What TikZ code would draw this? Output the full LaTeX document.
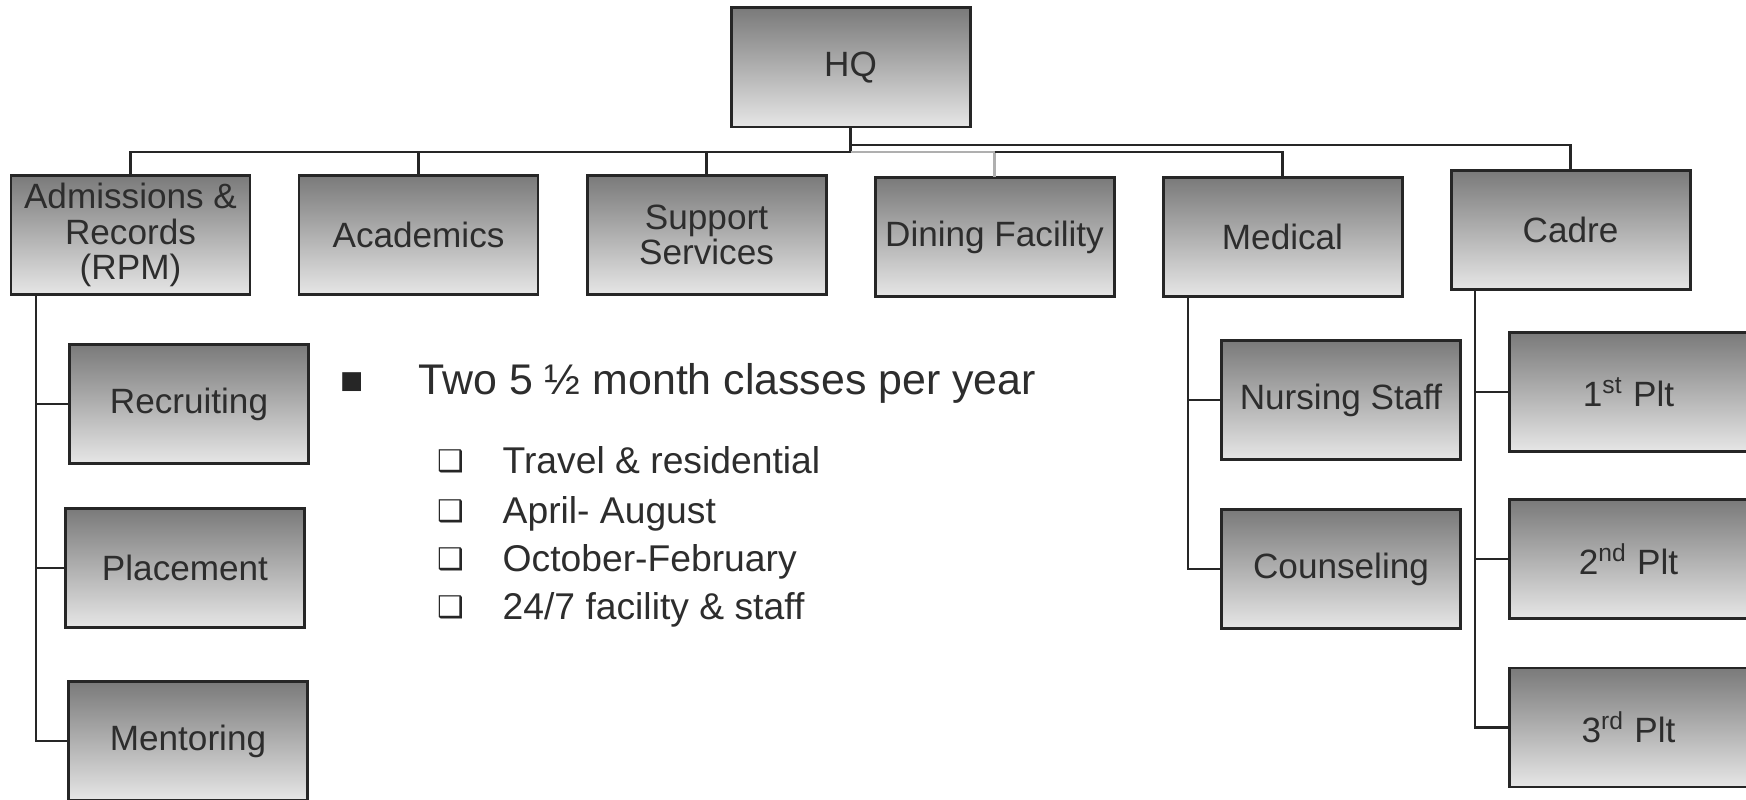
\documentclass[tikz,border=0pt]{standalone}
\usepackage{fontspec}
\setmainfont{Liberation Sans}
\newfontfamily\symfont{DejaVu Sans}
\usetikzlibrary{positioning}

\definecolor{inkgray}{RGB}{45,45,45}
\definecolor{edgegray}{RGB}{38,38,38}
\definecolor{boxtop}{RGB}{122,122,122}
\definecolor{boxbot}{RGB}{230,230,230}
\definecolor{palegray}{RGB}{175,175,175}

\begin{document}
\begin{tikzpicture}[node distance=0.49cm,
    every node/.style={text=inkgray},
    unit/.style={draw=edgegray, line width=0.85pt, outer sep=0pt, top color=boxtop, bottom color=boxbot,
      minimum width=2.39cm, minimum height=1.19cm, inner sep=1pt, align=center,
      font=\fontsize{10}{10}\selectfont},
    link/.style={edgegray, line width=0.6pt},
    palelink/.style={palegray, line width=0.8pt},
    item/.style={anchor=base west, inner sep=0pt, font=\fontsize{10.6}{12}\selectfont},
    tick/.style={anchor=base east, inner sep=0pt, text=edgegray, font=\symfont\fontsize{8.5}{9}\selectfont}]
  \useasboundingbox[fill=white] (0,0) rectangle (17.46,-8);

  % top row
  \node[unit] (hq) at (8.505,-0.675) {HQ};
  \node[unit] (adm) at (1.305,-2.35) {Admissions \&\\Records\\(RPM)};
  \node[unit, right=of adm] (acad) {Academics};
  \node[unit, right=of acad] (supp) {Support\\Services};
  \node[unit, right=of supp, yshift=-0.02cm] (dine) {Dining Facility};
  \node[unit, right=of dine] (med) {Medical};
  \node[unit, right=of med, yshift=0.07cm] (cadre) {Cadre};

  % sections
  \node[unit, below=0.5cm of adm, xshift=0.585cm] (recr) {Recruiting};
  \node[unit, below=0.45cm of recr, xshift=-0.04cm] (plac) {Placement};
  \node[unit, below=0.54cm of plac, xshift=0.03cm] (ment) {Mentoring};
  \node[unit, below=0.44cm of med, xshift=0.585cm] (nurs) {Nursing Staff};
  \node[unit, below=0.5cm of nurs] (couns) {Counseling};
  \node[unit, below=0.43cm of cadre, xshift=0.58cm] (plt1) {1\textsuperscript{st} Plt};
  \node[unit, below=0.48cm of plt1] (plt2) {2\textsuperscript{nd} Plt};
  \node[unit, below=0.495cm of plt2] (plt3) {3\textsuperscript{rd} Plt};

  % bus under HQ
  \coordinate (busR) at ([yshift=-0.18cm]hq.south);
  \coordinate (busL) at ([yshift=-0.25cm]hq.south);
  \draw[link] (hq.south) -- (busL);
  \draw[link] (busR) -| (cadre.north);
  \draw[link] (busL) -| (adm.north);
  \draw[link] (busL) -| (acad.north);
  \draw[link] (busL) -| (supp.north);
  \draw[palelink] (busL) -| (dine.north);
  \draw[link] (busL -| dine.north) -| (med.north);

  % side branches
  \draw[link] ([xshift=0.25cm]adm.south west) |- (recr.west);
  \draw[link] ([xshift=0.25cm]adm.south west) |- (plac.west);
  \draw[link] ([xshift=0.25cm]adm.south west) |- (ment.west);
  \draw[link] ([xshift=0.25cm]med.south west) |- (nurs.west);
  \draw[link] ([xshift=0.25cm]med.south west) |- (couns.west);
  \draw[link] ([xshift=0.24cm]cadre.south west) |- (plt1.west);
  \draw[link] ([xshift=0.24cm]cadre.south west) |- (plt2.west);
  \draw[link] ([xshift=0.24cm]cadre.south west) |- (plt3.west);

  % notes
  \node[anchor=base west, inner sep=0pt, font=\fontsize{12.2}{14}\selectfont] (cls) at (4.18,-3.95) {Two 5 ½ month classes per year};
  \node[anchor=base east, inner sep=0pt, text=edgegray, font=\symfont\fontsize{7}{8}\selectfont] (clsdot) at ([xshift=-0.54cm, yshift=0.06cm]cls.base west) {■};
  \node[item] (trv) at (5.02,-4.735) {Travel \& residential};
  \node[item] (apr) at (5.02,-5.235) {April- August};
  \node[item] (oct) at (5.02,-5.715) {October-February};
  \node[item] (fac) at (5.02,-6.195) {24/7 facility \& staff};
  \node[tick] (trvbox) at ([xshift=-0.37cm, yshift=0.02cm]trv.base west) {❑};
  \node[tick] (aprbox) at ([xshift=-0.37cm, yshift=0.02cm]apr.base west) {❑};
  \node[tick] (octbox) at ([xshift=-0.37cm, yshift=0.02cm]oct.base west) {❑};
  \node[tick] (facbox) at ([xshift=-0.37cm, yshift=0.02cm]fac.base west) {❑};
\end{tikzpicture}
\end{document}
